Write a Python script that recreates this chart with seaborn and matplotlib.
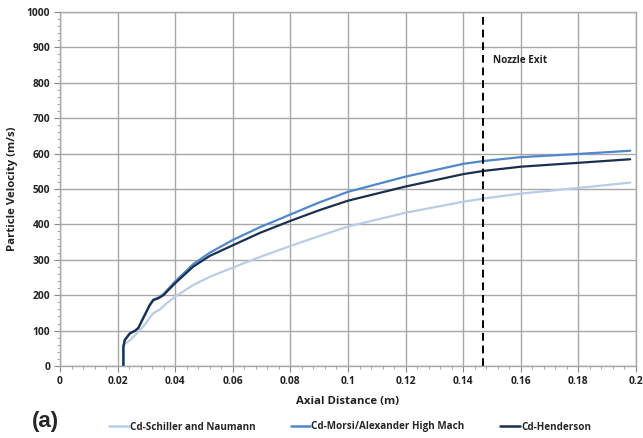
import matplotlib
matplotlib.use("Agg")
import matplotlib.pyplot as plt
import seaborn as sns
import pandas as pd
from matplotlib.ticker import MultipleLocator

sns.set_theme(style="white")
plt.rcParams['font.family'] = ['Open Sans', 'DejaVu Sans']

series_names = ["Cd-Schiller and Naumann", "Cd-Morsi/Alexander High Mach", "Cd-Henderson"]

x_schiller = [0.022, 0.022, 0.0225, 0.0243, 0.0266, 0.0289, 0.0315, 0.0324, 0.0347, 0.037,
              0.04, 0.0463, 0.052, 0.06, 0.0694, 0.08, 0.09, 0.1, 0.12, 0.14, 0.147,
              0.16, 0.18, 0.198]
v_schiller = [0, 50, 62, 73, 92, 111, 140, 149, 160, 177,
              196, 229, 252, 278, 308, 339, 367, 394, 433, 464, 473,
              487, 503, 518]

x_morsi = [0.022, 0.022, 0.0225, 0.0243, 0.026, 0.0272, 0.0289, 0.0312, 0.0324, 0.0341,
           0.0359, 0.04, 0.0463, 0.052, 0.06, 0.0694, 0.08, 0.09, 0.1, 0.12, 0.14,
           0.147, 0.16, 0.18, 0.198]
v_morsi = [0, 55, 75, 93, 100, 108, 137, 174, 188, 193,
           203, 239, 288, 320, 356, 392, 428, 462, 492, 535, 571,
           579, 590, 599, 608]

x_henderson = [0.022, 0.022, 0.0225, 0.0243, 0.026, 0.0272, 0.0289, 0.0312, 0.0324, 0.0341,
               0.0359, 0.04, 0.0463, 0.052, 0.06, 0.0694, 0.08, 0.09, 0.1, 0.12, 0.14,
               0.147, 0.16, 0.18, 0.198]
v_henderson = [0, 55, 73, 92, 99, 107, 135, 172, 186, 191,
               200, 234, 281, 311, 341, 376, 410, 440, 467, 507, 542,
               551, 563, 574, 584]

nozzle_exit_x = 0.147
x_ticks = [0, 0.02, 0.04, 0.06, 0.08, 0.1, 0.12, 0.14, 0.16, 0.18, 0.2]
x_tick_labels = ["0", "0.02", "0.04", "0.06", "0.08", "0.1", "0.12", "0.14", "0.16", "0.18", "0.2"]
y_ticks = [0, 100, 200, 300, 400, 500, 600, 700, 800, 900, 1000]

colors = ["#b9cde9", "#4f88cc", "#1b2f4f"]

frames = []
for name, xs, vs in zip(series_names, [x_schiller, x_morsi, x_henderson],
                        [v_schiller, v_morsi, v_henderson]):
    frames.append(pd.DataFrame({"x": xs, "v": vs, "series": name}))
df = pd.concat(frames, ignore_index=True)

fig = plt.figure(figsize=(6.43, 4.38), dpi=100)
ax = fig.add_axes([60/643, 1 - 366/438, 576/643, 354/438])

sns.lineplot(data=df, x="x", y="v", hue="series", hue_order=series_names,
             palette=colors, sort=False, estimator=None, units="series",
             linewidth=1.6, ax=ax, legend=False)

ax.axvline(nozzle_exit_x, color="black", linestyle=(0, (4, 2.5)), linewidth=1.4)
ax.text(0.1503, 862, "Nozzle Exit", fontsize=7.2, fontweight="bold",
        color="#222222", va="center", ha="left")

ax.set_xlim(0, 0.2)
ax.set_ylim(0, 1000)
ax.set_xticks(x_ticks)
ax.set_xticklabels(x_tick_labels)
ax.set_yticks(y_ticks)
ax.xaxis.set_minor_locator(MultipleLocator(0.004))
ax.yaxis.set_minor_locator(MultipleLocator(20))
ax.grid(True, which="major", color="#a8a8a8", linewidth=1.0)
ax.set_axisbelow(True)
for s in ax.spines.values():
    s.set_color("#a8a8a8")
    s.set_linewidth(1.0)
ax.tick_params(which="major", direction="out", length=4, width=0.8, color="#888888",
               labelsize=7.4, pad=3, bottom=True, left=True)
ax.tick_params(which="minor", direction="out", length=2.5, width=0.6, color="#999999",
               bottom=True, left=True)
for lab in ax.get_xticklabels() + ax.get_yticklabels():
    lab.set_fontweight("bold")
    lab.set_color("#222222")

ax.set_xlabel("Axial Distance (m)", fontsize=8.2, fontweight="bold", color="#222222", labelpad=7)
ax.set_ylabel("Particle Velocity (m/s)", fontsize=8.2, fontweight="bold", color="#222222", labelpad=6)

fig.text(32/643, 1 - 422/438, "(a)", fontsize=16, fontweight="bold", va="center", ha="left",
         family=["Liberation Sans", "DejaVu Sans"])

handles = [plt.Line2D([], [], color=c, linewidth=1.8) for c in colors]
fig.legend(handles, series_names, loc="center left", bbox_to_anchor=(100/643, 1 - 427/438),
           ncol=3, frameon=False, prop={"weight": "bold", "size": 7.1},
           handlelength=2.0, handletextpad=0.1, columnspacing=3.6)

fig.savefig("out.png", dpi=100)
